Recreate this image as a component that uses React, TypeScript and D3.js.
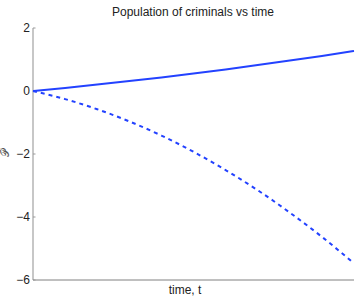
import React from "react";
import * as d3 from "d3";

const times = [0, 0.1, 0.2, 0.3, 0.4, 0.5, 0.6, 0.7, 0.8, 0.9, 1.0];
const upperSeries = [0, 0.098, 0.203, 0.314, 0.431, 0.555, 0.685, 0.822, 0.965, 1.114, 1.27];
const lowerSeries = [0, -0.257, -0.579, -0.965, -1.415, -1.93, -2.51, -3.15, -3.86, -4.63, -5.47];
const yTicks = [2, 0, -2, -4, -6];
const title = "Population of criminals vs time";
const xLabel = "time, t";
const yLabel = "\u{1D4AB}";

export default function App() {
  const W = 357, H = 298;
  const left = 33, right = 354, top = 28, bottom = 280;
  const x = d3.scaleLinear().domain([0, 1]).range([left, right]);
  const y = d3.scaleLinear().domain([-6, 2]).range([bottom, top]);
  const line = d3.line<number>().x((_, i) => x(times[i])).y((d) => y(d)).curve(d3.curveMonotoneX);
  const font = "'Liberation Sans', Arial, sans-serif";
  const fmt = (v: number) => (v < 0 ? "\u2212" + Math.abs(v) : String(v));
  return (
    <svg width={W} height={H} style={{ position: "absolute", left: 0, top: 0, background: "#fff" }} fontFamily={font}>
      <text x={193} y={16} textAnchor="middle" fontSize={12} fill="#222">{title}</text>
      <line x1={left} x2={left} y1={top} y2={bottom} stroke="#b4b4b4" strokeWidth={1.5} />
      <line x1={left} x2={right} y1={bottom} y2={bottom} stroke="#808080" strokeWidth={1} />
      {yTicks.map((t) => (
        <g key={t}>
          <line x1={left} x2={left + 2.5} y1={y(t)} y2={y(t)} stroke="#999" strokeWidth={1} />
          <text x={left - 3} y={y(t)} dy="0.35em" textAnchor="end" fontSize={12} fill="#222">{fmt(t)}</text>
        </g>
      ))}
      <path d={line(upperSeries) || ""} fill="none" stroke="#2342ff" strokeWidth={2} />
      <path d={line(lowerSeries) || ""} fill="none" stroke="#2342ff" strokeWidth={2} strokeDasharray="4,4" />
      <text x={185} y={294} textAnchor="middle" fontSize={12} fill="#222">{xLabel}</text>
      <text transform={`translate(9,153) rotate(-90)`} textAnchor="middle" fontSize={11} fill="#555" fontFamily="'DejaVu Sans', 'DejaVu Serif', sans-serif">{yLabel}</text>
    </svg>
  );
}
